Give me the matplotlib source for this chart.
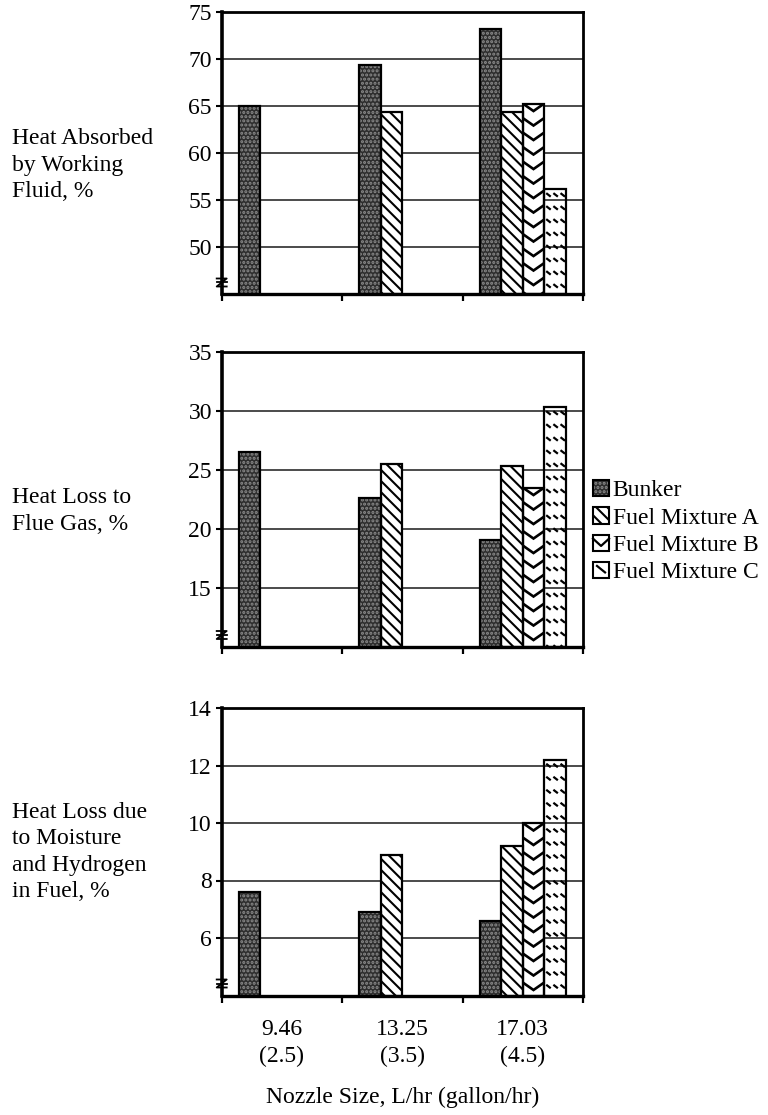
import numpy as np
import matplotlib
matplotlib.use("Agg")
import matplotlib.pyplot as plt
from matplotlib.patches import Rectangle, Patch
from matplotlib.lines import Line2D
from matplotlib.legend_handler import HandlerBase

plt.rcParams['font.family'] = ['Liberation Serif', 'DejaVu Serif']
plt.rcParams['hatch.linewidth'] = 1.5

# ---------------- data ----------------
categories = ['9.46\n(2.5)', '13.25\n(3.5)', '17.03\n(4.5)']
series_names = ['Bunker', 'Fuel Mixture A', 'Fuel Mixture B', 'Fuel Mixture C']

absorbed_bunker = [65.0, 69.4, 73.2]
absorbed_mix_a = [np.nan, 64.4, 64.4]
absorbed_mix_b = [np.nan, np.nan, 65.3]
absorbed_mix_c = [np.nan, np.nan, 56.2]

flue_bunker = [26.5, 22.6, 19.1]
flue_mix_a = [np.nan, 25.5, 25.3]
flue_mix_b = [np.nan, np.nan, 23.5]
flue_mix_c = [np.nan, np.nan, 30.3]

moist_bunker = [7.6, 6.9, 6.6]
moist_mix_a = [np.nan, 8.9, 9.2]
moist_mix_b = [np.nan, np.nan, 10.0]
moist_mix_c = [np.nan, np.nan, 12.2]

panel_labels = ['Heat Absorbed\nby Working\nFluid, %',
                'Heat Loss to\nFlue Gas, %',
                'Heat Loss due\nto Moisture\nand Hydrogen\nin Fuel, %']
panel_ylims = [(45, 75), (10, 35), (4, 14)]
panel_yticks = [[50, 55, 60, 65, 70, 75], [15, 20, 25, 30, 35], [6, 8, 10, 12, 14]]
panel_data = [
    [absorbed_bunker, absorbed_mix_a, absorbed_mix_b, absorbed_mix_c],
    [flue_bunker, flue_mix_a, flue_mix_b, flue_mix_c],
    [moist_bunker, moist_mix_a, moist_mix_b, moist_mix_c],
]
x_label = 'Nozzle Size, L/hr (gallon/hr)'

# ---------------- layout ----------------
W, H, DPI = 768, 1115, 100
FS = 17
AX_L, AX_R = 221.7, 583.0
panel_px = [(12.3, 294.5), (351.7, 647.0), (708.0, 995.5)]
label_y_px = [165, 511, 852]

fig = plt.figure(figsize=(W / DPI, H / DPI), dpi=DPI)

BAR_W = 0.178
x = np.arange(len(categories))
BUNKER_FACE, BUNKER_DOTS = '#2e2e2e', '#8c8c8c'


def add_chevrons(ax, patch, ppx, ppy, ybot):
    h = patch.get_height()
    if not np.isfinite(h):
        return
    x0, w = patch.get_x(), patch.get_width()
    top = patch.get_y() + h
    period, depth = 14.5 / ppy, 7.5 / ppy
    y = top
    while y > ybot:
        ln, = ax.plot([x0, x0 + w / 2, x0 + w], [y, y - depth, y],
                      color='black', lw=1.9, solid_joinstyle='miter')
        ln.set_clip_path(patch)
        y -= period


def add_dashes(ax, patch, ppx, ppy, ybot):
    h = patch.get_height()
    if not np.isfinite(h):
        return
    x0, w = patch.get_x(), patch.get_width()
    top = patch.get_y() + h
    period = 13.0 / ppy
    dx, dy = 4.5 / ppx, 3.5 / ppy
    y = top - 4.0 / ppy
    while y > ybot:
        for k in range(3):
            xs = x0 + (2.0 / ppx) + k * w / 3.0
            ln, = ax.plot([xs, xs + dx], [y, y - dy], color='black', lw=1.6,
                          solid_capstyle='butt')
            ln.set_clip_path(patch)
        y -= period


for p in range(3):
    top_px, bot_px = panel_px[p]
    ax = fig.add_axes([AX_L / W, 1 - bot_px / H, (AX_R - AX_L) / W, (bot_px - top_px) / H])
    lo, hi = panel_ylims[p]
    ax.set_xlim(-0.5, 2.5)
    ax.set_ylim(lo, hi)
    ax.set_yticks(panel_yticks[p])
    ax.yaxis.grid(True, color='#1a1a1a', lw=1.1)
    ax.set_axisbelow(True)

    ppx = (AX_R - AX_L) / 3.0
    ppy = (bot_px - top_px) / (hi - lo)

    b_vals, a_vals, m_vals, c_vals = [np.asarray(v, dtype=float) - lo for v in panel_data[p]]
    offs = [(i - 1.5) * BAR_W for i in range(4)]
    # Bunker: dark stipple
    ax.bar(x + offs[0], b_vals, BAR_W, bottom=lo, facecolor=BUNKER_FACE, edgecolor=BUNKER_DOTS,
           hatch='....', linewidth=0, zorder=2)
    ax.bar(x + offs[0], b_vals, BAR_W, bottom=lo, fill=False, edgecolor='black',
           linewidth=1.6, zorder=3)
    # Mixture A: diagonal lines
    ax.bar(x + offs[1], a_vals, BAR_W, bottom=lo, facecolor='white', edgecolor='black',
           hatch='\\\\\\', linewidth=0, zorder=2)
    ax.bar(x + offs[1], a_vals, BAR_W, bottom=lo, fill=False, edgecolor='black',
           linewidth=1.6, zorder=3)
    # Mixture B: chevrons
    bars_b = ax.bar(x + offs[2], m_vals, BAR_W, bottom=lo, facecolor='white',
                    edgecolor='none', linewidth=0, zorder=2)
    for patch in bars_b.patches:
        add_chevrons(ax, patch, ppx, ppy, lo)
    ax.bar(x + offs[2], m_vals, BAR_W, bottom=lo, fill=False, edgecolor='black',
           linewidth=1.6, zorder=3)
    # Mixture C: short dashes (transparent face)
    bars_c = ax.bar(x + offs[3], c_vals, BAR_W, bottom=lo, facecolor='none',
                    edgecolor='none', linewidth=0, zorder=2)
    for patch in bars_c.patches:
        add_dashes(ax, patch, ppx, ppy, lo)
    ax.bar(x + offs[3], c_vals, BAR_W, bottom=lo, fill=False, edgecolor='black',
           linewidth=1.6, zorder=3)

    # axes styling
    for s, lw in (('left', 2.6), ('bottom', 2.4), ('top', 2.0), ('right', 2.0)):
        ax.spines[s].set_linewidth(lw)
        ax.spines[s].set_color('black')
    ax.tick_params(axis='y', direction='out', length=4, width=1.5, labelsize=FS, pad=3)
    ax.set_xticks(x)
    ax.set_xticks([-0.5, 0.5, 1.5, 2.5], minor=True)
    ax.tick_params(axis='x', which='major', length=0, labelsize=FS, pad=17)
    ax.tick_params(axis='x', which='minor', direction='out', length=5, width=1.6)
    if p == 2:
        ax.set_xticklabels(categories, linespacing=1.35)
        ax.set_xlabel(x_label, fontsize=FS, labelpad=14)
    else:
        ax.set_xticklabels([])

    # axis break mark
    axw = AX_R - AX_L
    axh = bot_px - top_px
    fx, fy = 1.0 / axw, 1.0 / axh
    ax.add_line(Line2D([-5 * fx, 5 * fx, -5 * fx, 5 * fx],
                       [16 * fy, 16 * fy, 8 * fy, 8 * fy],
                       transform=ax.transAxes, color='black', lw=1.3, clip_on=False))
    ax.add_line(Line2D([-5 * fx, 5 * fx], [12 * fy, 12 * fy],
                       transform=ax.transAxes, color='black', lw=1.3, clip_on=False))

    fig.text(12 / W, 1 - label_y_px[p] / H, panel_labels[p], ha='left', va='center',
             fontsize=FS, linespacing=1.35)


# ---------------- legend ----------------
class PatternHandler(HandlerBase):
    def __init__(self, kind):
        super().__init__()
        self.kind = kind

    def create_artists(self, legend, orig_handle, xdescent, ydescent, width, height,
                       fontsize, trans):
        x0, y0 = -xdescent, -ydescent
        arts = []
        if self.kind == 0:
            arts.append(Rectangle((x0, y0), width, height, facecolor=BUNKER_FACE,
                                  edgecolor=BUNKER_DOTS, hatch='....', lw=0, transform=trans))
        elif self.kind == 1:
            arts.append(Rectangle((x0, y0), width, height, facecolor='white',
                                  edgecolor='black', hatch='\\\\\\', lw=0, transform=trans))
        elif self.kind == 2:
            arts.append(Rectangle((x0, y0), width, height, facecolor='white',
                                  edgecolor='none', lw=0, transform=trans))
            arts.append(Line2D([x0, x0 + width * 0.5, x0 + width],
                               [y0 + height * 0.75, y0 + height * 0.3, y0 + height * 0.75],
                               color='black', lw=1.6, transform=trans))
        else:
            arts.append(Rectangle((x0, y0), width, height, facecolor='white',
                                  edgecolor='none', lw=0, transform=trans))
            arts.append(Line2D([x0 + width * 0.25, x0 + width * 0.75],
                               [y0 + height * 0.75, y0 + height * 0.35],
                               color='black', lw=1.6, transform=trans))
        arts.append(Rectangle((x0, y0), width, height, fill=False, edgecolor='black',
                              lw=1.5, transform=trans))
        return arts


handles = [Patch(label=n) for n in series_names]
fig.legend(handles=handles, handler_map={h: PatternHandler(i) for i, h in enumerate(handles)},
           loc='upper left', bbox_to_anchor=(593 / W, 1 - 480 / H), frameon=False,
           fontsize=FS, handlelength=0.68, handleheight=0.68, handletextpad=0.15,
           labelspacing=0.25, borderpad=0, borderaxespad=0)

fig.savefig('out.png', dpi=DPI)
